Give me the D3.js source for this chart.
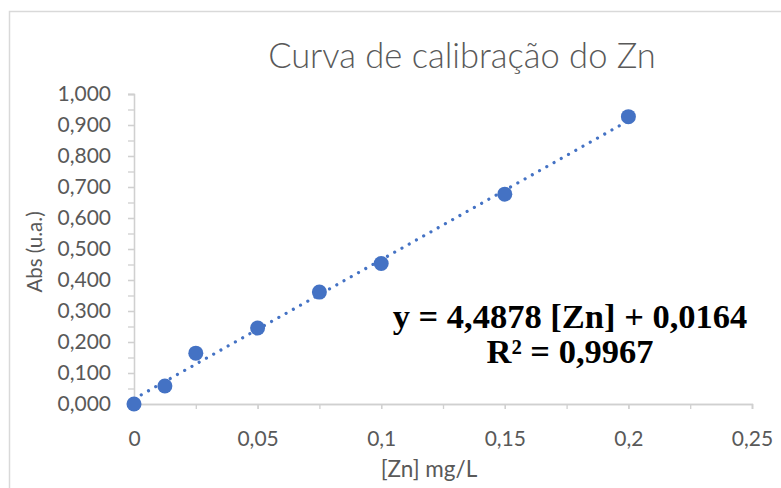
<!DOCTYPE html>
<html>
<head>
<meta charset="utf-8">
<script src="https://cdn.jsdelivr.net/npm/d3@7"></script>
<style>
  body { margin: 0; background: #fff; }
  svg { display: block; }
</style>
</head>
<body>
<div id="chart"></div>
<script>
// calibration data
const concZn = [0, 0.0125, 0.025, 0.05, 0.075, 0.1, 0.15, 0.2];
const absValues = [0.000, 0.058, 0.164, 0.245, 0.361, 0.453, 0.677, 0.927];
const trendCoef = [4.4878, 0.0164]; // slope, intercept
const trendRange = [0, 0.2];
const xTicks = [0, 0.05, 0.1, 0.15, 0.2, 0.25];
const yTicks = [0, 0.1, 0.2, 0.3, 0.4, 0.5, 0.6, 0.7, 0.8, 0.9, 1.0];
const equationLines = ['y = 4,4878 [Zn] + 0,0164', 'R² = 0,9967'];

const width = 781;
const height = 488;
const margin = {
  top: 94, right: 29, bottom: 84, left: 134,
};
const plotW = width - margin.left - margin.right;
const plotH = height - margin.top - margin.bottom;

const ptLocale = d3.formatLocale({
  decimal: ',', thousands: '.', grouping: [3], currency: ['', ''],
});
const fmtY = ptLocale.format('.3f');
const fmtX = ptLocale.format('~g');

const labelFont = 'Lato, Calibri, Carlito, sans-serif';
const grey = '#595959';
const axisGrey = '#d0d0d0';
const blue = '#4472c4';

const svg = d3.select('#chart').append('svg')
  .attr('width', width)
  .attr('height', height);

// chart area border (cut off at right / bottom)
svg.append('rect')
  .attr('x', 9.5)
  .attr('y', 11.5)
  .attr('width', 900)
  .attr('height', 600)
  .attr('fill', 'none')
  .attr('stroke', '#d9d9d9')
  .attr('stroke-width', 1.5);

const g = svg.append('g')
  .attr('transform', `translate(${margin.left},${margin.top})`);

const x = d3.scaleLinear().domain([0, 0.25]).range([0, plotW]);
const y = d3.scaleLinear().domain([0, 1]).range([plotH, 0]);

// minor ticks
g.append('g')
  .attr('class', 'y minor')
  .call(d3.axisLeft(y).tickValues(d3.range(0, 1.0001, 0.05)).tickSize(6).tickFormat(''));
g.append('g')
  .attr('class', 'x minor')
  .attr('transform', `translate(0,${plotH})`)
  .call(d3.axisBottom(x).tickValues(d3.range(0, 0.2501, 0.025)).tickSize(5).tickFormat(''));

// labelled axes
g.append('g')
  .attr('class', 'y axis')
  .call(d3.axisLeft(y).tickValues(yTicks).tickSize(6).tickPadding(17).tickFormat(fmtY));
g.append('g')
  .attr('class', 'x axis')
  .attr('transform', `translate(0,${plotH})`)
  .call(d3.axisBottom(x).tickValues(xTicks).tickSize(5).tickPadding(22).tickFormat(fmtX));

g.selectAll('.domain, .tick line')
  .attr('stroke', axisGrey)
  .attr('stroke-width', 1.3);
g.selectAll('.tick text')
  .attr('fill', grey)
  .style('font-family', labelFont)
  .style('font-size', '21px');

// axis titles
svg.append('text')
  .attr('transform', 'translate(42,252) rotate(-90)')
  .attr('text-anchor', 'middle')
  .attr('fill', grey)
  .style('font-family', labelFont)
  .style('font-size', '20.5px')
  .text('Abs (u.a.)');

svg.append('text')
  .attr('x', 429)
  .attr('y', 477)
  .attr('text-anchor', 'middle')
  .attr('fill', grey)
  .style('font-family', labelFont)
  .style('font-size', '22.5px')
  .text('[Zn] mg/L');

// title
svg.append('text')
  .attr('x', 462)
  .attr('y', 68)
  .attr('text-anchor', 'middle')
  .attr('fill', grey)
  .style('font-family', labelFont)
  .style('font-weight', 300)
  .style('font-size', '34.5px')
  .text('Curva de calibração do Zn');

// dotted linear trendline
const trendLine = d3.line()
  .x(d => x(d))
  .y(d => y(trendCoef[0] * d + trendCoef[1]));

g.append('path')
  .datum(trendRange)
  .attr('d', trendLine)
  .attr('fill', 'none')
  .attr('stroke', blue)
  .attr('stroke-width', 3.2)
  .attr('stroke-linecap', 'round')
  .attr('stroke-dasharray', '0.01 8.3');

// markers
g.selectAll('.dot')
  .data(concZn.map((c, i) => ({ c, a: absValues[i] })))
  .enter().append('circle')
  .attr('class', 'dot')
  .attr('cx', d => x(d.c))
  .attr('cy', d => y(d.a))
  .attr('r', 7.5)
  .attr('fill', blue);

// regression equation
const eq = svg.append('text')
  .attr('text-anchor', 'middle')
  .attr('fill', '#000')
  .style('font-family', '"Liberation Serif", "Times New Roman", serif')
  .style('font-weight', 'bold')
  .style('font-size', '34.5px');

eq.selectAll('tspan')
  .data(equationLines)
  .enter().append('tspan')
  .attr('x', 570)
  .attr('y', (d, i) => 328 + i * 35)
  .text(d => d);
</script>
</body>
</html>
